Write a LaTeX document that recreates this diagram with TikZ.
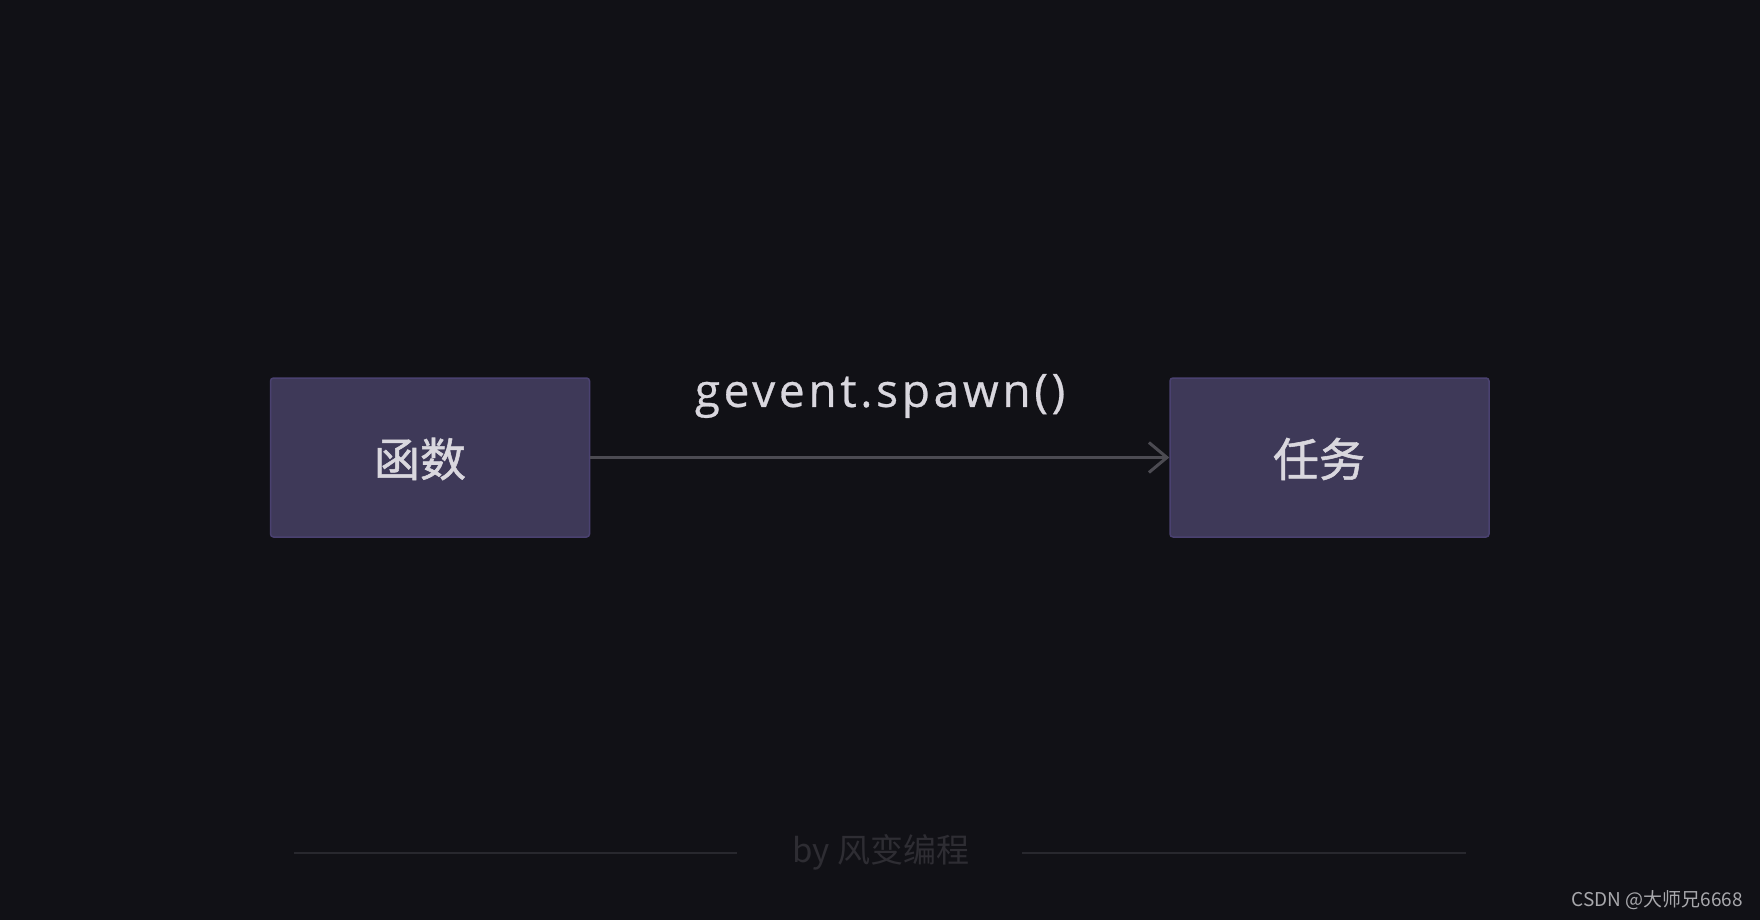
\documentclass[tikz,border=0pt]{standalone}
\usepackage{fontspec}
\setmainfont{Noto Sans CJK SC}
\newfontfamily\cjk{Noto Sans CJK SC}[FakeBold=1.2]
\newfontfamily\lat{Open Sans}[LetterSpace=8,FakeBold=0.6]
\usetikzlibrary{arrows.meta}
\definecolor{bg}{HTML}{111116}
\definecolor{boxfill}{HTML}{3E3958}
\definecolor{boxdraw}{HTML}{4A4170}
\definecolor{txt}{HTML}{D9D7DE}
\definecolor{arrowc}{HTML}{4C4B52}
\definecolor{foot}{HTML}{2E2D33}
\definecolor{footline}{HTML}{28282E}
\definecolor{mark}{HTML}{A8A8AC}
\tikzset{
  procbox/.style={draw=boxdraw, line width=1.5pt, fill=boxfill, rounded corners=3pt,
    minimum width=319pt, minimum height=159pt, inner sep=0pt},
  boxtext/.style={text=txt, font=\cjk\fontsize{46}{50}\selectfont, inner sep=0pt},
}
\begin{document}
\begin{tikzpicture}[x=1pt,y=-1pt]
\fill[bg] (0,0) rectangle (1760,920);
\useasboundingbox (0,0) rectangle (1760,920);
\node[procbox] (f) at (430,457.5) {};
\node[procbox] (t) at (1329.5,457.5) {};
\node[boxtext] (ft) at (420,459) {函数};
\node[boxtext] (tt) at (1319,459) {任务};
\draw[arrowc, line width=3pt, -{Straight Barb[length=18pt,width=30pt,line width=3pt]}] (f.east) -- (t.west);
\node[text=txt, font=\lat\fontsize{46}{50}\selectfont, inner sep=0pt] (lbl) at (880,396) {gevent.spawn()};
\coordinate (l1) at (294,853);
\coordinate (l2) at (737,853);
\coordinate (r1) at (1022,853);
\coordinate (r2) at (1466,853);
\draw[footline, line width=2pt] (l1) -- (l2);
\draw[footline, line width=2pt] (r1) -- (r2);
\node[text=foot, font=\fontsize{33}{36}\selectfont, inner sep=0pt] (by) at (881,852) {by 风变编程};
\node[text=mark, font=\fontsize{19}{22}\selectfont, inner sep=0pt, anchor=east] (wm) at (1743,900) {CSDN @大师兄6668};
\end{tikzpicture}
\end{document}
